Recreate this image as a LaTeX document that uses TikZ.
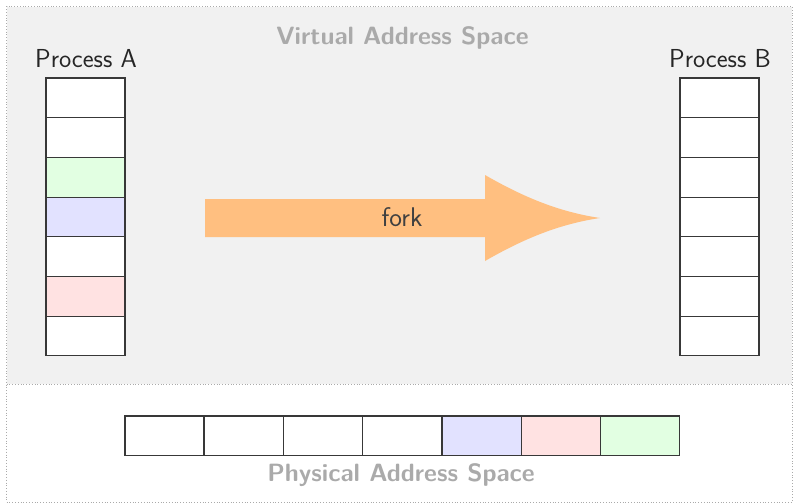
\documentclass[tikz,border=0pt]{standalone}
\usepackage{fontspec}
\definecolor{bgray}{HTML}{F1F1F1}
\definecolor{dotgray}{HTML}{AAAAAA}
\definecolor{titlegray}{HTML}{AAAAAA}
\definecolor{cellline}{HTML}{383838}
\definecolor{cgreen}{HTML}{E2FFE2}
\definecolor{cblue}{HTML}{E2E2FF}
\definecolor{cred}{HTML}{FFE2E2}
\definecolor{forkfill}{HTML}{FFBF80}
\definecolor{forktext}{HTML}{404040}
\tikzset{
  cell/.style={draw=cellline, line width=1.1pt, minimum width=79pt, minimum height=39.7pt, inner sep=0pt, outer sep=0pt, anchor=north west},
  proclabel/.style={font=\sffamily\fontsize{26}{30}\selectfont, text=black!85, inner sep=0pt, anchor=base},
  spacelabel/.style={font=\sffamily\bfseries\fontsize{25}{29}\selectfont, text=titlegray, inner sep=0pt, anchor=base},
}
\begin{document}
\begin{tikzpicture}[x=1pt,y=-1pt]
\useasboundingbox (0,0) rectangle (793,503);
% background regions
\fill[bgray] (7,7) rectangle (792,384);
\draw[dotgray, dotted, line width=0.8pt] (6.5,6.5) rectangle (792,502);
\draw[dotgray, dotted, line width=0.8pt] (6.5,384) -- (792,384);
% titles
\node[spacelabel] (vas) at (402.5,45) {Virtual Address Space};
\node[spacelabel] (pas) at (401,481) {Physical Address Space};
\node[proclabel] (pa) at (86,68) {Process A};
\node[proclabel] (pb) at (720,68) {Process B};
% process A
\node[cell, fill=white]  (a1) at (46,78.0) {};
\node[cell, fill=white]  (a2) at (46,117.7) {};
\node[cell, fill=cgreen] (a3) at (46,157.4) {};
\node[cell, fill=cblue]  (a4) at (46,197.1) {};
\node[cell, fill=white]  (a5) at (46,236.8) {};
\node[cell, fill=cred]   (a6) at (46,276.5) {};
\node[cell, fill=white]  (a7) at (46,316.2) {};
% process B
\node[cell, fill=white] (b1) at (680,78.0) {};
\node[cell, fill=white] (b2) at (680,117.7) {};
\node[cell, fill=white] (b3) at (680,157.4) {};
\node[cell, fill=white] (b4) at (680,197.1) {};
\node[cell, fill=white] (b5) at (680,236.8) {};
\node[cell, fill=white] (b6) at (680,276.5) {};
\node[cell, fill=white] (b7) at (680,316.2) {};
% physical
\node[cell, fill=white]  (p1) at (125.0,416) {};
\node[cell, fill=white]  (p2) at (204.3,416) {};
\node[cell, fill=white]  (p3) at (283.6,416) {};
\node[cell, fill=white]  (p4) at (362.9,416) {};
\node[cell, fill=cblue]  (p5) at (442.2,416) {};
\node[cell, fill=cred]   (p6) at (521.5,416) {};
\node[cell, fill=cgreen] (p7) at (600.8,416) {};
% fork arrow
\fill[forkfill] (205,199) -- (485,199) -- (485,175)
  .. controls (525,198) and (560,212) .. (600,218)
  .. controls (560,224) and (525,238) .. (485,261)
  -- (485,237) -- (205,237) -- cycle;
\node[font=\sffamily\fontsize{27}{31}\selectfont, text=forktext, inner sep=0pt, anchor=base] (fork) at (402,226) {fork};
\end{tikzpicture}
\end{document}
